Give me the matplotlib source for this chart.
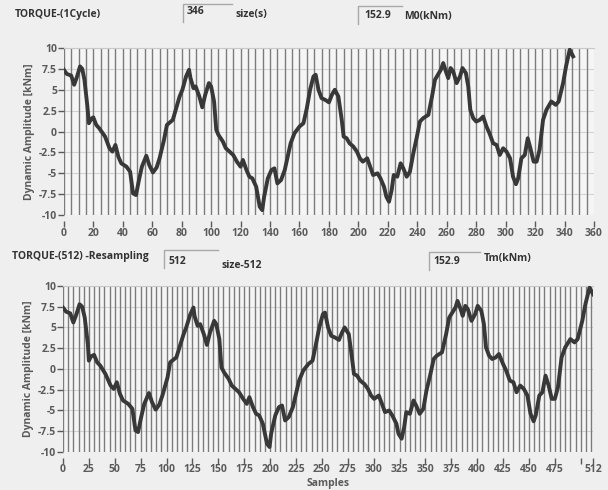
import matplotlib
matplotlib.use("Agg")
import matplotlib.pyplot as plt
from matplotlib.lines import Line2D

plt.rcParams['font.family'] = ['Open Sans', 'DejaVu Sans']

# one torque cycle (346 samples)
cycle_x = [0, 2, 5, 7, 9, 11, 12.5, 14, 16, 17, 18.5, 20, 22, 24, 28, 31, 33, 35, 37, 39,
           42.5, 45, 47, 49, 51, 53, 56, 58, 60.5, 63, 65, 68, 70, 72, 74, 76, 78.6, 80.5, 83, 85,
           86, 88, 89.5, 92, 94, 96, 98.5, 100, 102, 103.5, 105, 108, 110, 112.5, 115, 117.5, 120, 121.6, 124, 126,
           128, 130.6, 133, 134.7, 136, 138.5, 141, 143, 145, 147.5, 150, 152, 154, 156.6, 160, 162.7, 165, 167.2, 169.5, 171,
           172.9, 175, 177.4, 180, 182, 184, 186.4, 188.7, 190, 192, 194, 196.6, 199, 201, 203, 206, 208, 210, 213, 215,
           217.4, 219, 220.8, 222.6, 224, 226.4, 228.7, 230.5, 232.8, 235, 237.3, 239.5, 241.8, 244, 247.5, 250, 252, 254, 256, 257.6,
           259.4, 261, 262.6, 264.4, 266.7, 269, 270.7, 273, 274.6, 276, 278, 280, 282.5, 284.7, 287, 289, 291.5, 293.8, 296, 298.3,
           300.6, 303, 305, 307, 308.5, 310.7, 313, 315, 316.8, 319, 321, 323, 325.4, 327.7, 331, 334, 336, 339, 341, 343.5, 345.8]
cycle_y = [7.4, 6.9, 6.7, 5.6, 6.6, 7.8, 7.5, 6.2, 3.0, 1.0, 1.5, 1.7, 0.8, 0.4, -0.6, -2.0, -2.4, -1.6, -3.0, -3.8,
           -4.2, -4.8, -7.4, -7.6, -5.8, -4.2, -2.9, -4.0, -4.9, -4.3, -3.2, -1.0, 0.8, 1.1, 1.4, 2.6, 4.2, 5.0, 6.6, 7.4,
           6.4, 5.2, 5.4, 4.2, 2.9, 4.4, 5.8, 5.4, 3.6, 0.2, -0.4, -1.2, -2.0, -2.4, -2.8, -3.6, -4.2, -3.4, -4.6, -5.4,
           -5.6, -6.6, -9.0, -9.4, -7.8, -5.6, -4.6, -4.4, -6.2, -5.8, -4.6, -3.0, -1.4, -0.2, 0.6, 1.0, 2.8, 5.0, 6.6, 6.8,
           5.0, 4.0, 3.8, 3.5, 4.4, 5.0, 4.2, 1.4, -0.6, -0.8, -1.4, -1.8, -2.4, -3.2, -3.6, -3.2, -4.2, -5.2, -5.0, -5.6,
           -6.6, -7.8, -8.4, -7.0, -5.2, -5.4, -3.8, -4.4, -5.4, -4.8, -2.6, -0.8, 1.2, 1.6, 2.0, 4.2, 6.2, 6.8, 7.4, 8.2,
           7.2, 6.4, 7.6, 7.2, 5.8, 6.6, 7.6, 7.0, 5.4, 2.6, 1.6, 1.2, 1.4, 1.8, 0.6, -0.2, -1.4, -1.6, -2.8, -2.0,
           -2.4, -3.2, -5.4, -6.3, -5.6, -3.2, -2.8, -0.8, -2.0, -3.6, -3.6, -2.2, 1.4, 2.6, 3.6, 3.2, 3.6, 5.8, 7.8, 9.8, 9.0]

# the same cycle resampled to 512 points (lower chart)
resamp_x = [0, 3, 7, 10, 13, 16, 18.5, 21, 24, 25, 27, 30, 33, 36, 41, 46, 49, 52, 55, 58,
            63, 67, 70, 72.5, 75.5, 78.5, 83, 86, 89.5, 93, 96, 101, 103.5, 106.5, 109.5, 112.5, 116.5, 119, 123, 126,
            127, 130, 132.5, 136, 139, 142, 146, 148, 151, 153, 155.5, 160, 163, 166.5, 170, 174, 177.5, 180, 183.5, 186.5,
            189.5, 193, 197, 199.5, 201, 205, 208.5, 211.5, 214.5, 218, 222, 225, 228, 232, 237, 241, 244, 247.5, 251, 253,
            256, 259, 262.5, 266.5, 269.5, 272, 276, 279, 281, 284, 287, 291, 294.5, 297.5, 300.5, 305, 308, 311, 315, 318,
            322, 324, 327, 329.5, 331.5, 335, 338.5, 341, 344.5, 348, 351, 354.5, 358, 361, 366, 370, 373, 376, 379, 381,
            384, 386, 388.5, 391, 394.5, 398, 400.5, 404, 406.5, 408.5, 411.5, 414.5, 418, 421, 425, 428, 431.5, 435, 438, 441.5,
            445, 448.5, 451.5, 454.5, 456.5, 460, 463, 466, 469, 472, 475, 478, 481.5, 485, 490, 494, 497, 501.5, 504.5, 508.5, 512]
resamp_y = cycle_y

top_ticks = list(range(0, 361, 20))
bot_ticks = list(range(0, 501, 25)) + [512]
bot_labels = [str(t) for t in range(0, 476, 25)] + ['', '512']
y_ticks = [-10, -7.5, -5, -2.5, 0, 2.5, 5, 7.5, 10]
y_labels = ['-10', '-7.5', '-5', '-2.5', '0', '2.5', '5', '7.5', '10']

grey = '#5a5a5a'
fig = plt.figure(figsize=(6.08, 4.90), dpi=100, facecolor='#efefef')


def setup(ax, xmax, step_max, ticks, labels):
    ax.set_facecolor('#f5f5f5')
    # dense vertical markers every 5 samples
    for v in range(0, step_max + 1, 5):
        ax.axvline(v, color='#7c7c7c', lw=1.0, zorder=1)
    for v in y_ticks:
        ax.axhline(v, color='#d2d2d2', lw=0.8, zorder=0.5)
    ax.set_xlim(0, xmax)
    ax.set_ylim(-10, 10)
    ax.set_xticks(ticks)
    ax.set_xticklabels(labels)
    ax.set_yticks(y_ticks)
    ax.set_yticklabels(y_labels)
    for s in ['right', 'left']:
        ax.spines[s].set_visible(False)
    ax.spines['top'].set_color('#c8c8c8')
    ax.spines['bottom'].set_position(('outward', 4))
    ax.spines['bottom'].set_visible(False)
    ax.tick_params(axis='both', colors=grey, labelsize=7.5, length=4, width=1, pad=1)
    for lab in ax.get_xticklabels() + ax.get_yticklabels():
        lab.set_fontweight('bold')
    ax.set_ylabel('Dynamic Amplitude [kNm]', color=grey, fontsize=7.5, fontweight='bold', labelpad=3)


ax1 = fig.add_axes([0.105, 0.561, 0.872, 0.341])
setup(ax1, 360, 355, top_ticks, [str(t) for t in top_ticks])
ax1.plot(cycle_x, cycle_y, color='#383838', lw=2.8, zorder=3)

ax2 = fig.add_axes([0.1036, 0.0776, 0.872, 0.3388])
setup(ax2, 512, 510, bot_ticks, bot_labels)
ax2.plot(resamp_x, resamp_y, color='#383838', lw=2.8, zorder=3)
ax2.set_xlabel('Samples', color=grey, fontsize=7.5, fontweight='bold', labelpad=2)


def px(x, y):
    return x / 608, 1 - y / 490


def box(x0, y0, x1, y1):
    # sunken text field: only the left and top edges show
    (ax0, ay0), (ax1_, ay1) = px(x0, y0), px(x1, y1)
    fig.add_artist(Line2D([ax0, ax0, ax1_], [ay1, ay0, ay0], transform=fig.transFigure,
                          color='#a8a8a8', lw=1.0))


hdr = dict(fontsize=7.5, color='#333333', fontweight='bold', va='center', ha='left')
box(183, 4, 232, 22)
box(358, 6, 402, 24)
fig.text(*px(15, 15), 'TORQUE-(1Cycle)', **hdr)
fig.text(*px(187, 11), '346', **hdr)
fig.text(*px(236, 15), 'size(s)', **hdr)
fig.text(*px(364, 15), '152.9', **hdr)
fig.text(*px(404, 16), 'M0(kNm)', **hdr)

box(164, 250, 218, 268)
box(429, 252, 480, 270)
fig.text(*px(12, 257), 'TORQUE-(512) -Resampling', **hdr)
fig.text(*px(168, 261), '512', **hdr)
fig.text(*px(222, 265), 'size-512', **hdr)
fig.text(*px(433, 262), '152.9', **hdr)
fig.text(*px(484, 259), 'Tm(kNm)', **hdr)

fig.savefig('out.png', dpi=100, facecolor=fig.get_facecolor())
